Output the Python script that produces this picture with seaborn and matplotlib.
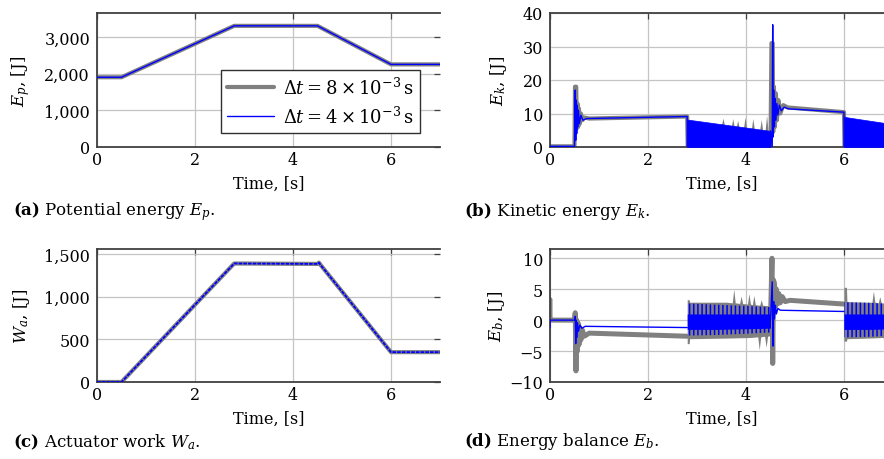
import matplotlib
matplotlib.use('Agg')
import matplotlib.pyplot as plt
import seaborn as sns
import pandas as pd
from matplotlib.ticker import StrMethodFormatter

# ---- (a) potential energy ----
time_ep = [0.0, 0.5, 2.8, 4.5, 6.0, 7.0]
ep_dt8 = [1900, 1900, 3300, 3300, 2250, 2250]
ep_dt4 = [1900, 1900, 3300, 3300, 2250, 2250]

# ---- (c) actuator work ----
time_wa = [0.0, 0.5, 2.8, 4.5, 4.53, 4.56, 6.0, 7.0]
wa_dt8 = [0, 0, 1390, 1385, 1400, 1375, 350, 350]
wa_dt4 = [0, 0, 1390, 1385, 1400, 1375, 350, 350]

# ---- (b) kinetic energy ----
ek8_t = [0.0, 0.50, 0.51, 0.535, 0.545, 0.56, 0.575, 0.59, 0.61, 0.63, 0.66, 0.70, 0.80,
         2.80, 2.81, 4.50, 4.52, 4.545, 4.555, 4.57, 4.59, 4.61, 4.63, 4.66, 4.70, 4.76,
         4.85, 6.00, 6.01, 7.0]
ek8_v = [0.2, 0.2, 18.0, 18.0, 5.5, 13.0, 6.0, 11.5, 7.0, 10.0, 8.0, 8.8, 8.5,
         9.1, 0.2, 0.2, 31.0, 31.0, 4.5, 18.0, 6.0, 16.0, 8.0, 14.0, 10.0, 12.5,
         11.8, 10.4, 0.2, 0.2]
ek8_band_t = [2.81, 3.50, 3.53, 3.56, 3.70, 3.73, 3.76, 3.80, 3.83, 3.86, 3.95, 3.98,
              4.01, 4.11, 4.14, 4.17, 4.28, 4.31, 4.34, 4.39, 4.42, 4.45, 4.50]
ek8_band_hi = [8.0, 6.6, 8.6, 6.5, 6.1, 8.5, 6.0, 5.9, 8.0, 5.8, 5.7, 9.0,
               5.6, 5.4, 8.5, 5.3, 5.1, 8.2, 5.0, 4.9, 9.5, 4.8, 4.7]

ek4_seg1_t = [0.0, 0.50, 0.515, 0.525, 0.535, 0.545, 0.555, 0.565, 0.58, 0.60, 0.63,
              0.67, 0.75, 2.80, 2.80]
ek4_seg1_v = [0.2, 0.2, 17.0, 2.0, 14.0, 4.0, 12.5, 6.0, 11.0, 7.0, 9.5,
              8.0, 8.5, 9.1, 0.2]
ek4_seg2_t = [4.50, 4.535, 4.545, 4.555, 4.565, 4.58, 4.595, 4.61, 4.63, 4.65, 4.68,
              4.72, 4.78, 4.86, 6.00, 6.00]
ek4_seg2_v = [4.8, 0.2, 36.5, 3.0, 17.0, 6.0, 14.5, 8.0, 13.0, 9.5, 12.5,
              10.8, 11.9, 11.4, 10.4, 0.2]
ek4_band1_t = [2.80, 3.20, 3.60, 4.00, 4.50]
ek4_band1_hi = [8.2, 7.4, 6.6, 5.8, 4.8]
ek4_band2_t = [6.00, 6.50, 7.00]
ek4_band2_hi = [9.0, 7.9, 6.8]

# ---- (d) energy balance ----
eb8_seg1_t = [0.0, 0.0, 0.01, 0.50, 0.515, 0.53, 0.545, 0.56, 0.575, 0.59, 0.61,
              0.63, 0.66, 0.70, 0.80, 2.80]
eb8_seg1_v = [3.3, 0.0, 0.0, 0.0, 1.2, -8.2, 0.0, -5.0, -0.5, -4.0, -1.2,
              -3.2, -1.6, -2.6, -2.1, -2.6]
eb8_seg2_t = [4.50, 4.53, 4.545, 4.56, 4.58, 4.60, 4.62, 4.64, 4.67, 4.70, 4.74,
              4.80, 4.90, 6.00]
eb8_seg2_v = [0.0, 10.0, -7.0, 6.5, 6.0, 2.2, 5.0, 2.6, 4.3, 2.8, 3.8,
              3.0, 3.2, 2.6]
eb8_band1_hi_t = [2.80, 2.84, 2.85, 3.60, 3.72, 3.75, 3.78, 3.87, 3.90, 3.93, 4.03,
                  4.06, 4.09, 4.13, 4.16, 4.19, 4.28, 4.31, 4.34, 4.50]
eb8_band1_hi = [3.3, 3.3, 2.9, 2.9, 2.8, 5.0, 2.8, 2.7, 3.9, 2.7, 2.6,
                4.3, 2.6, 2.5, 4.0, 2.5, 2.4, 3.3, 2.4, 2.3]
eb8_band1_lo_t = [2.80, 2.84, 2.85, 3.60, 4.10, 4.24, 4.27, 4.30, 4.38, 4.41, 4.44, 4.50]
eb8_band1_lo = [-3.8, -3.8, -3.0, -2.9, -2.8, -2.7, -4.8, -2.7, -2.6, -4.4, -2.6, -2.5]
eb8_band2_hi_t = [6.00, 6.05, 6.06, 6.50, 6.57, 6.60, 6.63, 6.70, 6.73, 6.76, 7.00]
eb8_band2_hi = [5.3, 5.3, 3.0, 2.9, 2.9, 4.7, 2.9, 2.8, 3.8, 2.8, 2.7]
eb8_band2_lo_t = [6.00, 6.05, 6.06, 6.50, 6.80, 6.83, 6.86, 7.00]
eb8_band2_lo = [-3.4, -3.4, -3.0, -2.9, -2.8, -5.0, -2.8, -2.8]

eb4_seg1_t = [0.0, 0.0, 0.01, 0.50, 0.515, 0.525, 0.535, 0.545, 0.56, 0.58, 0.61,
              0.65, 0.72, 2.80]
eb4_seg1_v = [-1.2, 0.0, 0.0, 0.0, 0.6, -3.8, 0.0, -2.8, -0.4, -1.8, -0.8,
              -1.3, -1.0, -1.2]
eb4_seg2_t = [4.50, 4.535, 4.55, 4.565, 4.58, 4.60, 4.62, 4.65, 4.70, 6.00]
eb4_seg2_v = [0.0, 6.2, -4.2, 3.0, 0.2, 2.4, 1.0, 1.9, 1.6, 1.4]
eb4_band1_t = [2.80, 3.40, 4.00, 4.50]
eb4_band1_hi = [2.7, 2.5, 2.3, 2.1]
eb4_band1_lo = [-2.5, -2.4, -2.2, -2.0]
eb4_core1_hi = [1.0, 1.0, 1.0, 1.0]
eb4_core1_lo = [-1.5, -1.5, -1.4, -1.3]
eb4_band2_t = [6.00, 6.50, 7.00]
eb4_band2_hi = [2.9, 2.8, 2.6]
eb4_band2_lo = [-2.8, -2.7, -2.5]
eb4_core2_hi = [1.0, 1.0, 1.0]
eb4_core2_lo = [-1.5, -1.5, -1.4]

GRAY = '#808080'
BLUE = '#0000ff'
LW8 = 3.0
LW4 = 1.0
LABEL8 = r'$\mathit{\Delta} t = 8\times10^{-3}\,\mathrm{s}$'
LABEL4 = r'$\mathit{\Delta} t = 4\times10^{-3}\,\mathrm{s}$'

sns.set_theme(style='whitegrid')
plt.rcParams['font.family'] = ['DejaVu Serif']
plt.rcParams['mathtext.fontset'] = 'dejavuserif'
plt.rcParams['text.color'] = 'black'
plt.rcParams['axes.labelcolor'] = 'black'
plt.rcParams['hatch.linewidth'] = 1.1

fig = plt.figure(figsize=(8.84, 4.6), dpi=100)
fig.patch.set_facecolor('white')


def px_axes(left, top, bottom, width=343):
    return fig.add_axes([left / 884, 1 - bottom / 460, width / 884, (bottom - top) / 460])


def segs(*pairs):
    rows = []
    for k, (t, v) in enumerate(pairs):
        rows.append(pd.DataFrame({'t': t, 'v': v, 'seg': k}))
    return pd.concat(rows, ignore_index=True)


def draw_segs(ax, df, color, lw, z):
    sns.lineplot(data=df, x='t', y='v', units='seg', estimator=None, sort=False,
                 color=color, lw=lw, ax=ax, zorder=z, legend=False)


def style(ax, ylim, yticks, ylabel, ylab_x, hide_right=False, comma=False):
    ax.set_xlim(0, 7)
    ax.set_ylim(*ylim)
    ax.set_xticks([0, 2, 4, 6])
    ax.set_yticks(yticks)
    if comma:
        ax.yaxis.set_major_formatter(StrMethodFormatter('{x:,.0f}'))
    ax.set_facecolor('white')
    ax.grid(True, color='#c4c4c4', lw=0.9)
    ax.set_axisbelow(True)
    for s in ax.spines.values():
        s.set_color('#404040')
        s.set_linewidth(1.3)
    if hide_right:
        ax.spines['right'].set_visible(False)
    ax.tick_params(direction='in', length=4, width=0.9, color='#404040',
                   labelsize=11.5, labelcolor='black', top=True, right=True)
    ax.tick_params(axis='x', pad=3)
    ax.tick_params(axis='y', pad=5)
    ax.set_xlabel('Time, [s]', fontsize=11.5)
    ax.xaxis.set_label_coords(0.5, -0.21)
    ax.set_ylabel(ylabel, fontsize=12)
    ax.yaxis.set_label_coords(ylab_x, 0.5)


ax_a = px_axes(97, 14, 148)
ax_b = px_axes(550, 14, 148)
ax_c = px_axes(97, 250, 383)
ax_d = px_axes(550, 250, 383)

# (a)
sns.lineplot(x=time_ep, y=ep_dt8, color=GRAY, lw=LW8, label=LABEL8, ax=ax_a, zorder=2)
sns.lineplot(x=time_ep, y=ep_dt4, color=BLUE, lw=LW4, label=LABEL4, ax=ax_a, zorder=3)
style(ax_a, (0, 3650), [0, 1000, 2000, 3000], r'$E_p$, [J]', -0.19, hide_right=True, comma=True)
leg = ax_a.legend(loc='lower right', bbox_to_anchor=(0.968, 0.037), frameon=True,
                  fancybox=False, edgecolor='#303030', framealpha=1, fontsize=13,
                  handlelength=2.6, handletextpad=0.5, borderpad=0.35, labelspacing=0.45)
leg.get_frame().set_linewidth(1.0)

# (b)
ax_b.fill_between(ek8_band_t, 0, ek8_band_hi, color=GRAY, lw=0, zorder=2)
draw_segs(ax_b, segs((ek8_t, ek8_v)), GRAY, LW8, 2)
ax_b.fill_between(ek4_band1_t, 0, ek4_band1_hi, color=BLUE, lw=0.5, zorder=3)
ax_b.fill_between(ek4_band2_t, 0, ek4_band2_hi, color=BLUE, lw=0.5, zorder=3)
draw_segs(ax_b, segs((ek4_seg1_t, ek4_seg1_v), (ek4_seg2_t, ek4_seg2_v)), BLUE, LW4, 3)
style(ax_b, (0, 40), [0, 10, 20, 30, 40], r'$E_k$, [J]', -0.12)

# (c)
sns.lineplot(x=time_wa, y=wa_dt8, color=GRAY, lw=LW8, ax=ax_c, zorder=2)
sns.lineplot(x=time_wa, y=wa_dt4, color=BLUE, lw=LW4 * 1.3, ls=(0, (2, 0.6)), ax=ax_c, zorder=3)
style(ax_c, (0, 1560), [0, 500, 1000, 1500], r'$W_a$, [J]', -0.19, hide_right=True, comma=True)

# (d)
for tt, hi in [(eb8_band1_hi_t, eb8_band1_hi), (eb8_band2_hi_t, eb8_band2_hi)]:
    ax_d.fill_between(tt, 0, hi, color=GRAY, lw=0, zorder=2)
for tt, lo in [(eb8_band1_lo_t, eb8_band1_lo), (eb8_band2_lo_t, eb8_band2_lo)]:
    ax_d.fill_between(tt, lo, 0, color=GRAY, lw=0, zorder=2)
draw_segs(ax_d, segs((eb8_seg1_t, eb8_seg1_v), (eb8_seg2_t, eb8_seg2_v)), GRAY, LW8 * 1.2, 2)
for tt, lo, hi in [(eb4_band1_t, eb4_band1_lo, eb4_band1_hi),
                   (eb4_band2_t, eb4_band2_lo, eb4_band2_hi)]:
    ax_d.fill_between(tt, lo, hi, facecolor='none', edgecolor=BLUE, hatch='||||',
                      lw=0, zorder=3)
for tt, lo, hi in [(eb4_band1_t, eb4_core1_lo, eb4_core1_hi),
                   (eb4_band2_t, eb4_core2_lo, eb4_core2_hi)]:
    ax_d.fill_between(tt, lo, hi, color=BLUE, lw=0, zorder=3)
draw_segs(ax_d, segs((eb4_seg1_t, eb4_seg1_v), (eb4_seg2_t, eb4_seg2_v)), BLUE, LW4, 3)
style(ax_d, (-10, 11.5), [-10, -5, 0, 5, 10], r'$E_b$, [J]', -0.125)

# captions
cap = dict(fontsize=12, va='center', ha='left')
fig.text(13 / 884, 1 - 212 / 460, r'$\mathbf{(a)}$ Potential energy $E_p$.', **cap)
fig.text(464 / 884, 1 - 212 / 460, r'$\mathbf{(b)}$ Kinetic energy $E_k$.', **cap)
fig.text(13 / 884, 1 - 442 / 460, r'$\mathbf{(c)}$ Actuator work $W_a$.', **cap)
fig.text(464 / 884, 1 - 442 / 460, r'$\mathbf{(d)}$ Energy balance $E_b$.', **cap)

fig.savefig('out.png', dpi=100, facecolor='white')
